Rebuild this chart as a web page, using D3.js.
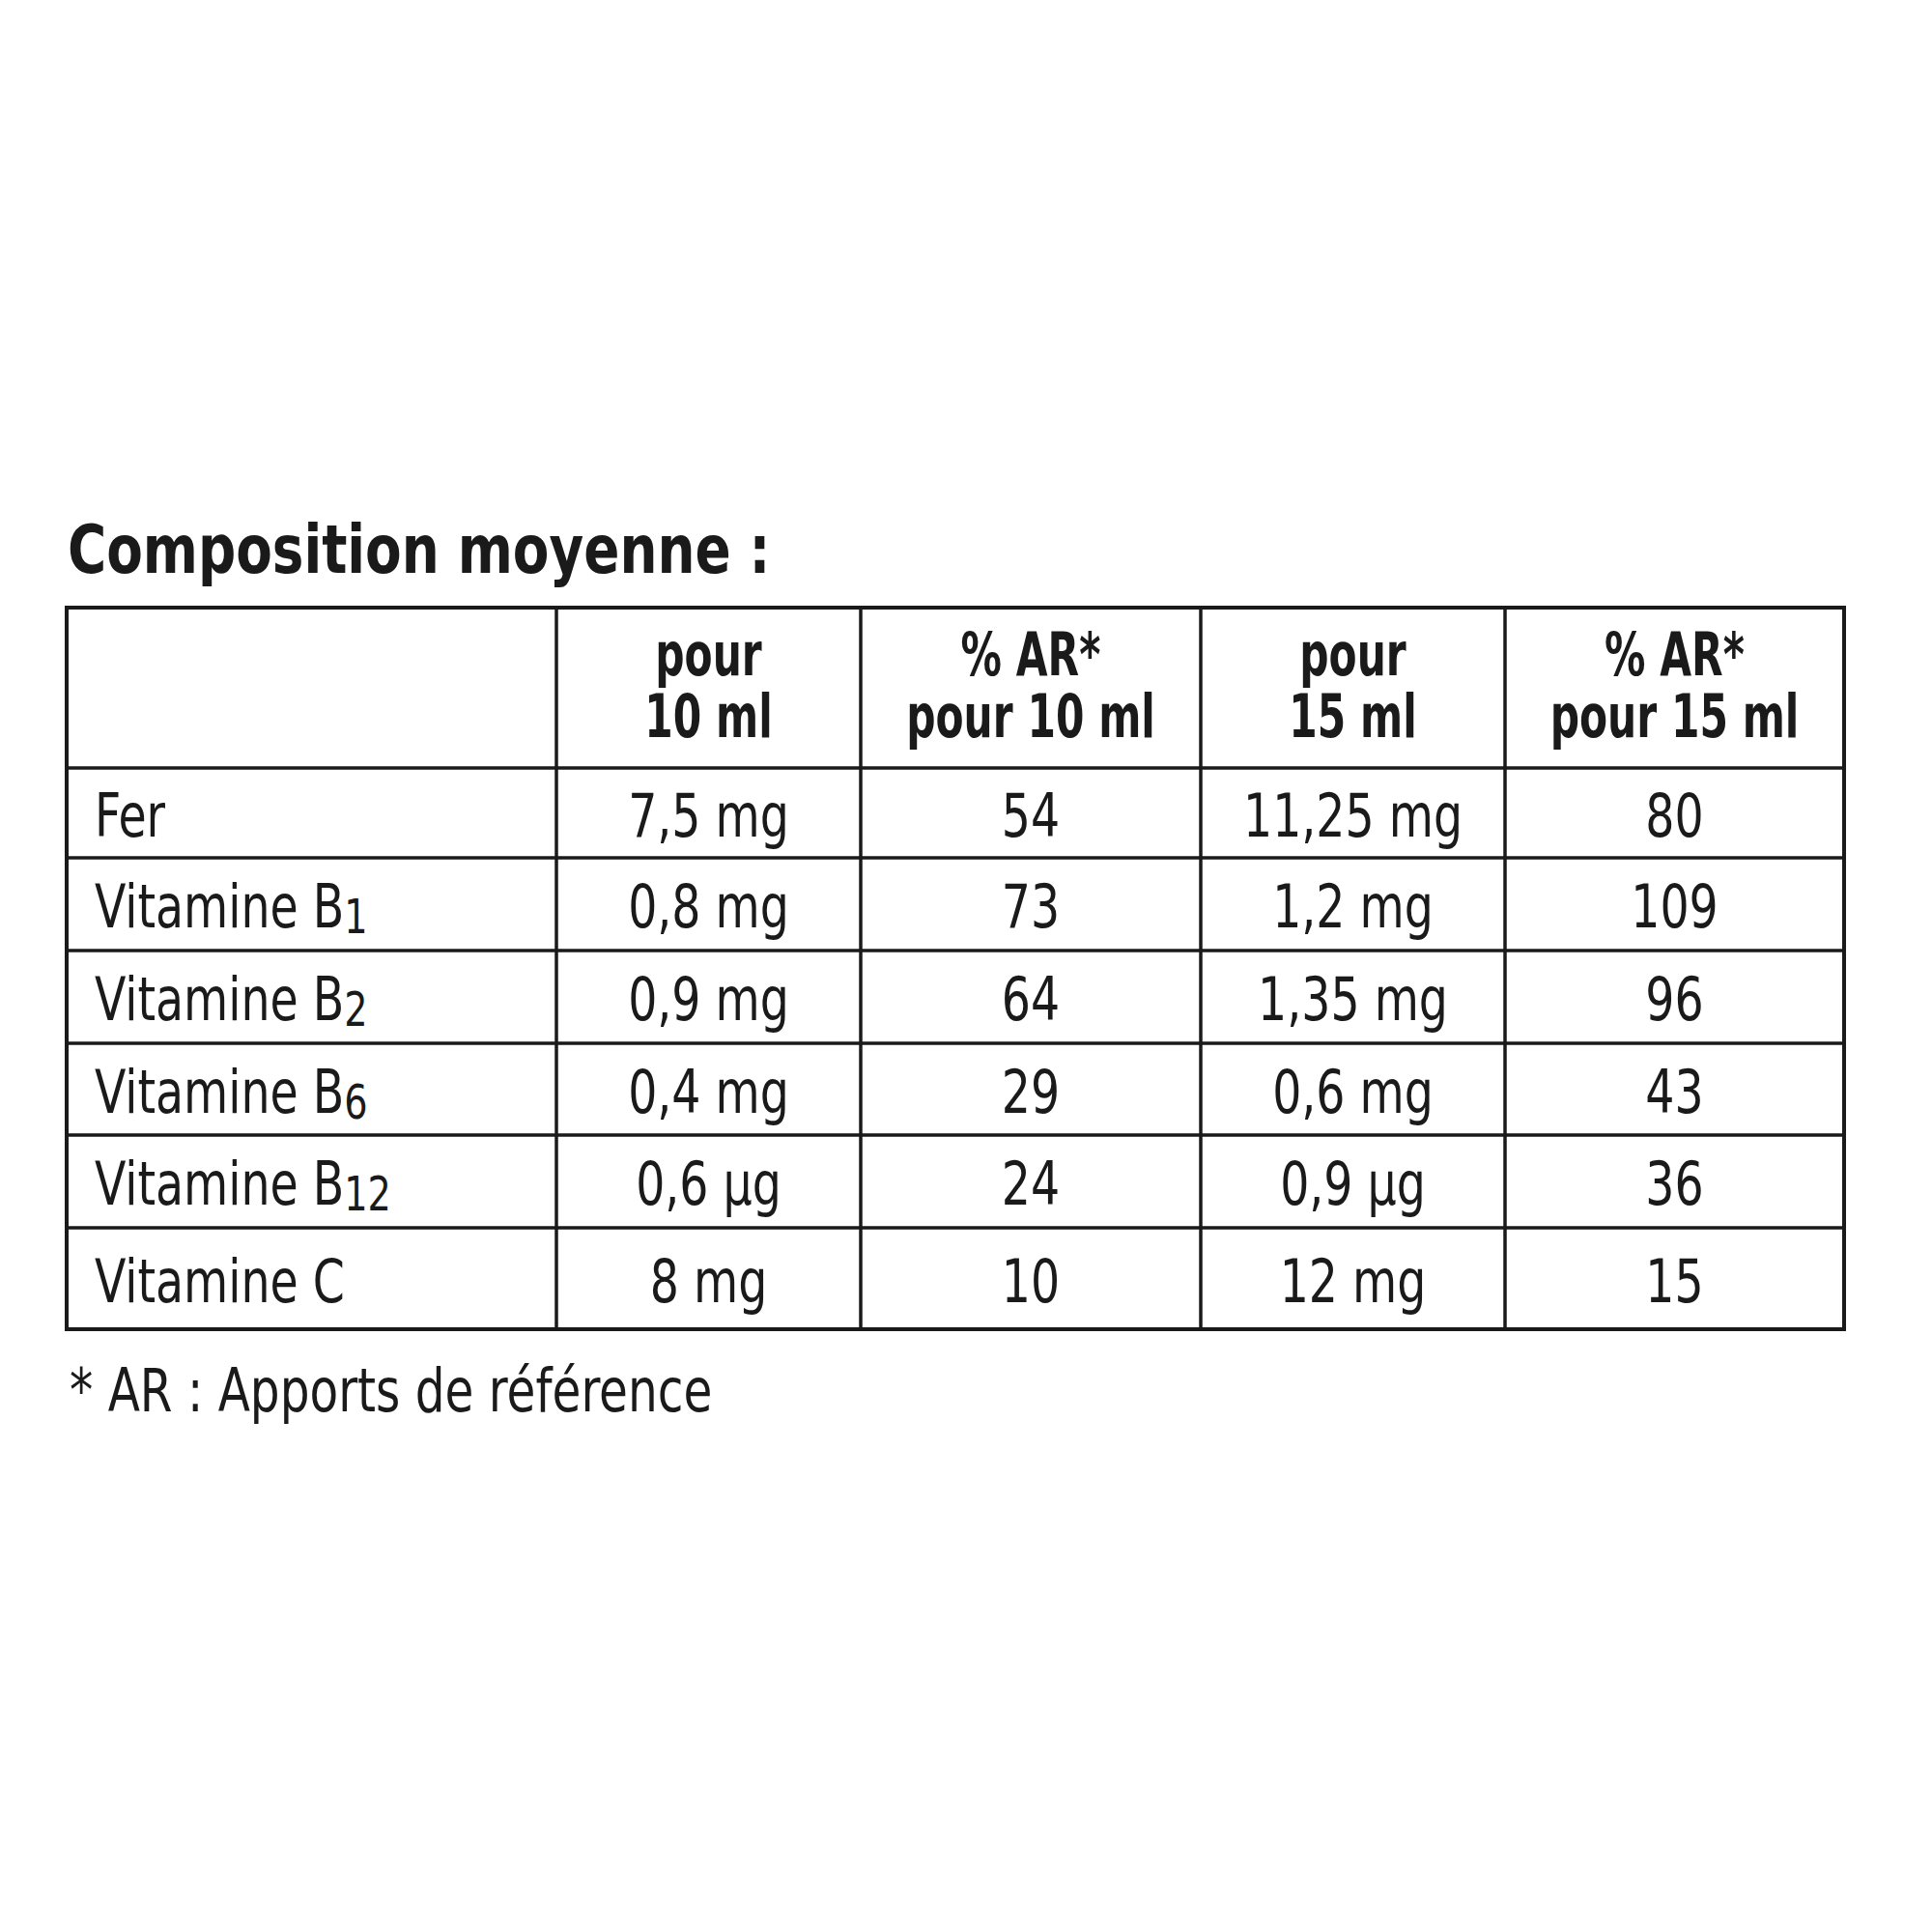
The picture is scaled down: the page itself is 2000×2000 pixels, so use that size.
<!DOCTYPE html>
<html><head><meta charset="utf-8">
<script src="https://cdn.jsdelivr.net/npm/d3@7"></script>
<style>body{margin:0;background:#fff}</style>
</head><body>
<svg id="chart" width="2000" height="2000"></svg>
<script>
// table contents
const headers = [[""], ["pour", "10 ml"], ["% AR*", "pour 10 ml"], ["pour", "15 ml"], ["% AR*", "pour 15 ml"]];
const nutrients = [["Fer", ""], ["Vitamine B", "1"], ["Vitamine B", "2"], ["Vitamine B", "6"], ["Vitamine B", "12"], ["Vitamine C", ""]];
const per10 = ["7,5 mg", "0,8 mg", "0,9 mg", "0,4 mg", "0,6 µg", "8 mg"];
const ar10 = ["54", "73", "64", "29", "24", "10"];
const per15 = ["11,25 mg", "1,2 mg", "1,35 mg", "0,6 mg", "0,9 µg", "12 mg"];
const ar15 = ["80", "109", "96", "43", "36", "15"];

const svg = d3.select("#chart");
const font = "'Liberation Sans Narrow', 'DejaVu Sans Condensed', sans-serif";
const ink = "#1a1a1a";

// column edges and row edges
const colEdges = [69, 576, 891, 1243, 1558, 1909];
const rowEdges = [629, 795, 888, 984, 1080, 1175, 1271, 1376];

// squeezed text helper: sx compresses horizontally
function label(parent, x, y, txt, opts) {
  const o = Object.assign({size: 62, weight: "normal", sx: 0.85, anchor: "start"}, opts);
  const t = parent.append("text")
    .attr("transform", `translate(${x},${y}) scale(${o.sx},1)`)
    .attr("text-anchor", o.anchor).attr("font-family", font)
    .attr("font-weight", o.weight).attr("font-size", o.size).attr("fill", ink);
  if (txt !== null) t.text(txt);
  return t;
}

label(svg, 70, 593, "Composition moyenne :", {size: 70, weight: "bold", sx: 0.87});

const g = svg.append("g");
g.append("rect").attr("x", colEdges[0]).attr("y", rowEdges[0])
  .attr("width", colEdges[5] - colEdges[0]).attr("height", rowEdges[7] - rowEdges[0])
  .attr("fill", "none").attr("stroke", ink).attr("stroke-width", 4);
g.selectAll(".vl").data(colEdges.slice(1, 5)).enter().append("line")
  .attr("x1", d => d).attr("x2", d => d).attr("y1", rowEdges[0]).attr("y2", rowEdges[7])
  .attr("stroke", ink).attr("stroke-width", 3.5);
g.selectAll(".hl").data(rowEdges.slice(1, 7)).enter().append("line")
  .attr("y1", d => d).attr("y2", d => d).attr("x1", colEdges[0]).attr("x2", colEdges[5])
  .attr("stroke", ink).attr("stroke-width", 3.5);

const mid = i => (colEdges[i] + colEdges[i + 1]) / 2;

// header
headers.forEach((lines, i) => {
  lines.forEach((t, j) => {
    label(g, mid(i), 699 + j * 64, t, {weight: "bold", sx: 0.76, anchor: "middle", size: 62});
  });
});

// body rows
const cols = [per10, ar10, per15, ar15];
nutrients.forEach((n, r) => {
  const y = (rowEdges[r + 1] + rowEdges[r + 2]) / 2 + 24;
  const t = label(g, 98, y, null, {});
  t.append("tspan").text(n[0]);
  if (n[1]) t.append("tspan").attr("dy", 6).attr("font-size", 50).text(n[1]);
  cols.forEach((c, ci) => {
    label(g, mid(ci + 1), y, c[r], {anchor: "middle"});
  });
});

label(svg, 72, 1461, "* AR : Apports de référence", {sx: 0.87});
</script>
</body></html>
